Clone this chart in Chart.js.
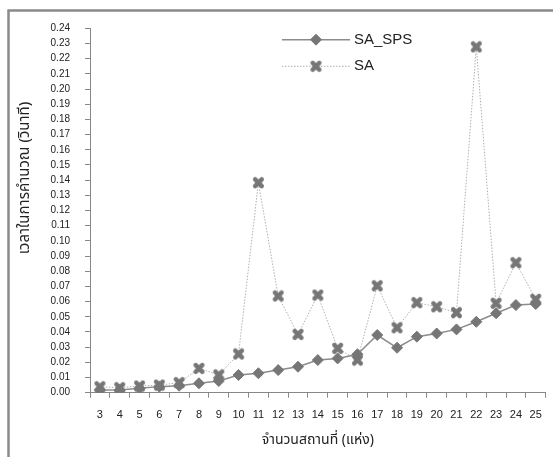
<!DOCTYPE html>
<html><head><meta charset="utf-8">
<script src="https://cdn.jsdelivr.net/npm/chart.js@4"></script>
<style>html,body{margin:0;padding:0;background:#fff;}canvas{display:block;}</style>
</head><body>
<canvas id="c" width="553" height="457"></canvas>
<script>
const categories = ['3','4','5','6','7','8','9','10','11','12','13','14','15','16','17','18','19','20','21','22','23','24','25'];
const saSps = [0.0018,0.0018,0.0029,0.0040,0.0046,0.0062,0.0077,0.0117,0.0128,0.0149,0.0171,0.0215,0.0226,0.0253,0.0380,0.0296,0.0369,0.0390,0.0417,0.0467,0.0523,0.0577,0.0584];
const sa = [0.0039,0.0033,0.0044,0.0050,0.0066,0.0160,0.0117,0.0255,0.1383,0.0637,0.0384,0.0643,0.0292,0.0215,0.0704,0.0428,0.0593,0.0566,0.0527,0.2278,0.0589,0.0856,0.0615];
const seriesNames = ['SA_SPS','SA'];
const yTitle = 'เวลาในการคำนวณ (วินาที)';
const xTitle = 'จำนวนสถานที่ (แห่ง)';

const MARK = '#767676';
function makeX(){
  const c = document.createElement('canvas');
  c.width = 13; c.height = 13;
  const g = c.getContext('2d');
  g.strokeStyle = MARK; g.lineWidth = 4.5; g.lineCap = 'round';
  g.beginPath(); g.moveTo(3.2,3.2); g.lineTo(9.8,9.8); g.moveTo(9.8,3.2); g.lineTo(3.2,9.8); g.stroke();
  return c;
}
const xImg = makeX();
const thaiFont = 'Tahoma, "Noto Sans Thai", "Noto Sans", "DejaVu Sans", sans-serif';

const framePlugin = {
  id: 'frame',
  beforeDraw(chart){
    const ctx = chart.ctx;
    ctx.save();
    ctx.strokeStyle = '#8a8a8a'; ctx.lineWidth = 2.5;
    ctx.beginPath(); ctx.moveTo(8.5, 457); ctx.lineTo(8.5, 10.5); ctx.lineTo(553, 10.5); ctx.stroke();
    ctx.restore();
  },
  afterDraw(chart){
    const ctx = chart.ctx;
    ctx.save();
    ctx.translate(26, 178); ctx.rotate(-Math.PI/2);
    ctx.fillStyle = '#222'; ctx.font = '15px ' + thaiFont;
    ctx.textAlign = 'center'; ctx.textBaseline = 'middle';
    ctx.fillText(yTitle, 0, 0);
    ctx.restore();
    const items = [
      {y: 39.7, ds: chart.data.datasets[0]},
      {y: 66.3, ds: chart.data.datasets[1]}
    ];
    items.forEach(it => {
      ctx.save();
      ctx.strokeStyle = it.ds.borderColor; ctx.lineWidth = it.ds.borderWidth;
      ctx.setLineDash(it.ds.borderDash || []);
      ctx.beginPath(); ctx.moveTo(282, it.y); ctx.lineTo(350, it.y); ctx.stroke();
      ctx.setLineDash([]);
      ctx.fillStyle = MARK; ctx.strokeStyle = MARK; ctx.lineWidth = 1;
      Chart.helpers.drawPoint(ctx, {pointStyle: it.ds.pointStyle, radius: it.ds.pointRadius, borderWidth: 1, rotation: 0}, 316, it.y);
      ctx.fillStyle = '#222'; ctx.font = '15px Arial, "Liberation Sans", sans-serif';
      ctx.textBaseline = 'middle'; ctx.textAlign = 'left';
      ctx.fillText(it.ds.label, 354, it.y);
      ctx.restore();
    });
  }
};

new Chart(document.getElementById('c'), {
  type: 'line',
  data: {
    labels: categories,
    datasets: [
      {label: seriesNames[0], data: saSps, borderColor: '#8c8c8c', borderWidth: 1.5, pointStyle: 'rectRot', pointRadius: 5.5, pointBackgroundColor: MARK, pointBorderColor: MARK, pointBorderWidth: 1, tension: 0},
      {label: seriesNames[1], data: sa, borderColor: '#b0b0b0', borderWidth: 1, borderDash: [1.5,1.5], pointStyle: xImg, pointRadius: 6, pointBackgroundColor: MARK, pointBorderColor: MARK, tension: 0}
    ]
  },
  options: {
    responsive: false, animation: false,
    layout: {padding: {left: 0, right: 5.3, top: 28.3, bottom: 0}},
    plugins: {legend: {display: false}, tooltip: {enabled: false}},
    scales: {
      x: {
        offset: true,
        grid: {offset: true, drawOnChartArea: false, tickLength: 5, color: '#888'},
        border: {color: '#888', width: 1},
        ticks: {padding: 11, color: '#222', font: {family: 'Arial, "Liberation Sans", sans-serif', size: 11}, maxRotation: 0, autoSkip: false},
        title: {display: true, text: xTitle, color: '#222', font: {family: thaiFont, size: 14}, padding: {top: 4, bottom: 7}},
        afterFit(s){ s.height = 457 - 392.7; }
      },
      y: {
        min: 0, max: 0.24,
        grid: {drawOnChartArea: false, tickLength: 5, color: '#888'},
        border: {color: '#888', width: 1},
        ticks: {stepSize: 0.01, padding: 15, color: '#222', font: {family: 'Arial, "Liberation Sans", sans-serif', size: 10}, callback: v => v.toFixed(2), autoSkip: false},
        afterFit(s){ s.width = 90; }
      }
    }
  },
  plugins: [framePlugin]
});
</script>
</body></html>
